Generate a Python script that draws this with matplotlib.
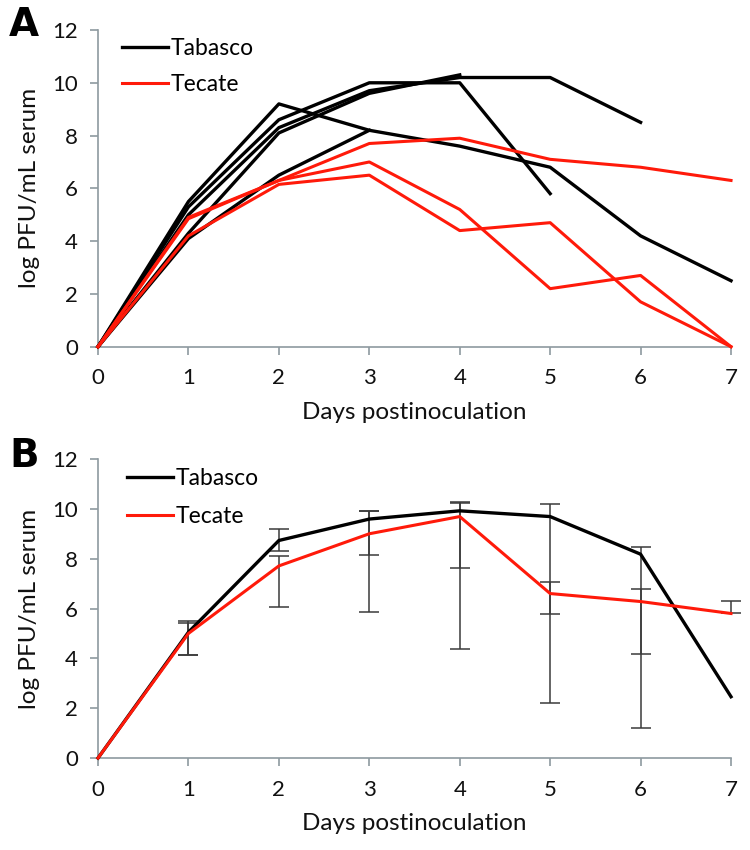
import matplotlib
matplotlib.use("Agg")
import matplotlib.pyplot as plt

plt.rcParams['font.family'] = ['Lato', 'DejaVu Sans']

days = [0, 1, 2, 3, 4, 5, 6, 7]

# panel A, single animals (lines stop where the animal stops)
tabasco_a = [
    [0, 5.5, 9.2, 8.2, 7.6, 6.8, 4.2, 2.5],
    [0, 5.3, 8.6, 10.0, 10.0, 5.8],
    [0, 4.3, 8.1, 9.6, 10.3],
    [0, 5.0, 8.3, 9.7, 10.2, 10.2, 8.5],
    [0, 4.1, 6.5, 8.2],
]
tecate_a = [
    [0, 4.9, 6.3, 7.7, 7.9, 7.1, 6.8, 6.3],
    [0, 4.85, 6.3, 7.0, 5.2, 2.2, 2.7, 0],
    [0, 4.2, 6.15, 6.5, 4.4, 4.7, 1.7, 0],
]

# panel B, means with range bars
tabasco_mean = [0, 5.05, 8.73, 9.59, 9.92, 9.69, 8.18, 2.46]
tabasco_hi = [0, 5.50, 9.18, 9.93, 10.27, 10.2, 8.46, 2.46]
tabasco_lo = [0, 4.14, 8.29, 8.15, 7.62, 5.78, 4.16, 2.46]
tecate_mean = [0, 5.0, 7.71, 9.0, 9.69, 6.6, 6.28, 5.8]
tecate_hi = [0, 5.41, 8.11, 9.93, 10.25, 7.08, 6.77, 6.29]
tecate_lo = [0, 4.14, 6.08, 5.88, 4.36, 2.2, 1.19, 5.8]

BLACK = "#000000"
RED = "#ff1a0a"
AXCOL = "#8e9aa0"

fig = plt.figure(figsize=(7.5, 8.5), dpi=100)
axA = fig.add_axes([0.1307, 0.5921, 0.844, 0.3726])
axB = fig.add_axes([0.1307, 0.1082, 0.844, 0.3518])


def style(ax):
    ax.set_xlim(0, 7)
    ax.set_ylim(0, 12)
    ax.set_xticks(days)
    ax.set_yticks(range(0, 13, 2))
    for s in ["top", "right"]:
        ax.spines[s].set_visible(False)
    for s in ["left", "bottom"]:
        ax.spines[s].set_color(AXCOL)
        ax.spines[s].set_linewidth(1.2)
    ax.tick_params(axis="both", colors=AXCOL, length=5.5, width=1.2, labelsize=16,
                   labelcolor="#111111")
    ax.tick_params(axis="x", pad=10)
    ax.tick_params(axis="y", pad=9)
    ax.set_xlabel("Days postinoculation", fontsize=17.5, color="#111111", labelpad=10)
    ax.set_ylabel("log PFU/mL serum", fontsize=17.5, color="#111111", labelpad=9)


for i, ys in enumerate(tabasco_a):
    axA.plot(days[:len(ys)], ys, color=BLACK, lw=2.4,
             label="Tabasco" if i == 0 else None, clip_on=False, zorder=3)
for i, ys in enumerate(tecate_a):
    axA.plot(days[:len(ys)], ys, color=RED, lw=2.2,
             label="Tecate" if i == 0 else None, clip_on=False, zorder=4)
style(axA)
axA.legend(loc="upper left", bbox_to_anchor=(0.038, 0.975), frameon=False, fontsize=16.5,
           handlelength=2.0, handletextpad=0.1, labelspacing=0.65, borderaxespad=0,
           borderpad=0)

# error bars first so the lines sit on top
for mean, hi, lo, n in [(tabasco_mean, tabasco_hi, tabasco_lo, 7),
                        (tecate_mean, tecate_hi, tecate_lo, 8)]:
    x = days[1:n]
    m = mean[1:n]
    up = [h - v for h, v in zip(hi[1:n], m)]
    dn = [v - l for l, v in zip(lo[1:n], m)]
    axB.errorbar(x, m, yerr=[dn, up], fmt="none", ecolor="#3a3a3a", elinewidth=1.1,
                 capsize=7, capthick=1.1, zorder=2, clip_on=False)

axB.plot(days, tabasco_mean, color=BLACK, lw=2.4, label="Tabasco", clip_on=False, zorder=3)
axB.plot(days, tecate_mean, color=RED, lw=2.2, label="Tecate", clip_on=False, zorder=4)
style(axB)
axB.legend(loc="upper left", bbox_to_anchor=(0.046, 0.970), frameon=False, fontsize=16.5,
           handlelength=2.0, handletextpad=0.1, labelspacing=0.75, borderaxespad=0,
           borderpad=0)

fig.text(0.012, 0.993, "A", fontsize=28, fontweight="heavy", family="DejaVu Sans",
         va="top", ha="left")
fig.text(0.012, 0.486, "B", fontsize=28, fontweight="heavy", family="DejaVu Sans",
         va="top", ha="left")

fig.savefig("out.png", dpi=100)
